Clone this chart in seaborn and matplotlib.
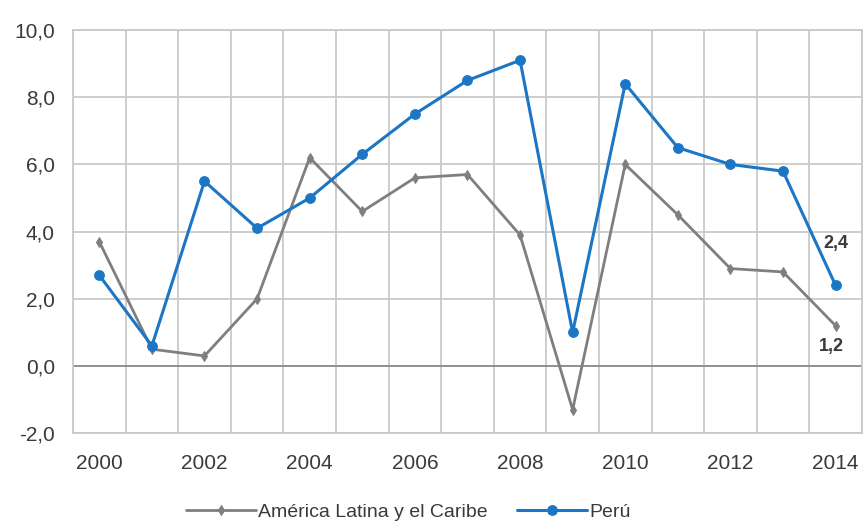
import matplotlib
matplotlib.use("Agg")
import matplotlib.pyplot as plt
import matplotlib.ticker as mticker
import numpy as np
import pandas as pd
import seaborn as sns

# Tasa de crecimiento del PBI (%)
years = list(range(2000, 2015))
alc = [3.7, 0.5, 0.3, 2.0, 6.2, 4.6, 5.6, 5.7, 3.9, -1.3, 6.0, 4.5, 2.9, 2.8, 1.2]
peru = [2.7, 0.6, 5.5, 4.1, 5.0, 6.3, 7.5, 8.5, 9.1, 1.0, 8.4, 6.5, 6.0, 5.8, 2.4]
series_names = ["América Latina y el Caribe", "Perú"]
y_ticks = [-2, 0, 2, 4, 6, 8, 10]

df = pd.DataFrame({
    "year": years * 2,
    "value": alc + peru,
    "serie": [series_names[0]] * len(years) + [series_names[1]] * len(years),
})

sns.set_theme(style="white")
plt.rcParams["font.family"] = ["Liberation Sans", "DejaVu Sans"]

fig = plt.figure(figsize=(8.65, 5.27), dpi=100)
ax = fig.add_axes([0.0844, 0.178, 0.912, 0.765])

grid_c = "#c9c9c9"
text_c = "#3a3a3a"
palette = {series_names[0]: "#7f7f7f", series_names[1]: "#1b76c6"}
markers = {series_names[0]: "d", series_names[1]: "o"}
sizes = {series_names[0]: 5, series_names[1]: 7}

for name in series_names:
    sub = df[df["serie"] == name]
    sns.lineplot(data=sub, x="year", y="value", ax=ax, color=palette[name],
                 marker=markers[name], markersize=sizes[name],
                 markeredgecolor=palette[name], linewidth=2.2 if name == "Perú" else 2.0,
                 label=name, zorder=3 if name == "Perú" else 2)

ax.set_xlim(years[0] - 0.5, years[-1] + 0.5)
ax.set_ylim(min(y_ticks), max(y_ticks))
ax.set_xticks(years[::2])
ax.set_xticks(np.arange(years[0] - 0.5, years[-1] + 1, 1.0), minor=True)
ax.set_yticks(y_ticks)
ax.yaxis.set_major_formatter(mticker.FuncFormatter(lambda v, p: f"{v:.1f}".replace(".", ",")))

ax.grid(False)
ax.grid(axis="x", which="minor", color=grid_c, linewidth=1.3)
ax.grid(axis="y", which="major", color=grid_c, linewidth=1.3)
ax.axhline(0, color="#8c8c8c", linewidth=1.3, zorder=1)
ax.tick_params(axis="x", which="both", length=0, labelsize=15, labelcolor=text_c, pad=15)
ax.tick_params(axis="y", which="major", length=5, width=1.3, color=grid_c,
               labelsize=15, labelcolor=text_c, pad=8)
for s in ax.spines.values():
    s.set_color(grid_c)
    s.set_linewidth(1.3)

ax.set_xlabel("")
ax.set_ylabel("")

# Etiquetas de los valores finales
ax.annotate(f"{peru[-1]:.1f}".replace(".", ","), xy=(years[-1], peru[-1]),
            xytext=(0, 30), textcoords="offset points", ha="center", va="center",
            fontsize=13, fontweight="bold", color=text_c)
ax.annotate(f"{alc[-1]:.1f}".replace(".", ","), xy=(years[-1], alc[-1]),
            xytext=(-3, -15), textcoords="offset points", ha="center", va="center",
            fontsize=13, fontweight="bold", color=text_c)

ax.legend(loc="upper center", bbox_to_anchor=(0.425, -0.13), ncol=2, frameon=False,
          fontsize=14, handlelength=3.6, columnspacing=1.5, handletextpad=0.1,
          labelcolor=text_c)

fig.savefig("out.png", dpi=100)
